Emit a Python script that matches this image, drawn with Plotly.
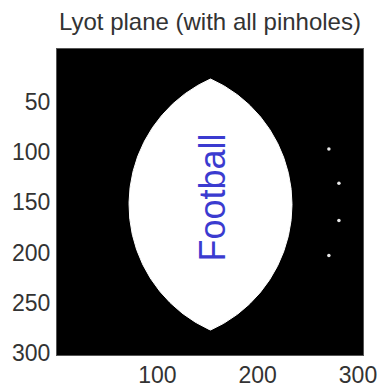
import numpy as np
import plotly.graph_objects as go

# ---- data ----
title_text = "Lyot plane (with all pinholes)"
label_text = "Football"
x_ticks = [100, 200, 300]
y_ticks = [50, 100, 150, 200, 250, 300]

# football (lens) aperture: centre, half-width, half-height (image pixels)
football_cx = 153.0
football_cy = 152.2
football_half_w = 81.2
football_half_h = 124.8

# pinholes (image pixels)
pinhole_x = [271, 281, 281, 271]
pinhole_y = [97, 131, 168, 203]

# ---- lens outline from its two circular arcs ----
R = (football_half_w + football_half_h**2 / football_half_w) / 2.0
d = R - football_half_w
phi = np.arcsin(football_half_h / R)
th = np.linspace(-phi, phi, 200)
right_x = football_cx - d + R * np.cos(th)
right_y = football_cy + R * np.sin(th)
left_x = football_cx + d - R * np.cos(th)
left_y = football_cy - R * np.sin(th)
lens_x = np.concatenate([right_x, left_x])
lens_y = np.concatenate([right_y, left_y])

fig = go.Figure()
fig.add_trace(go.Scatter(
    x=lens_x, y=lens_y, mode="lines", fill="toself",
    fillcolor="white", line=dict(color="white", width=1),
    hoverinfo="skip", showlegend=False))
fig.add_trace(go.Scatter(
    x=pinhole_x, y=pinhole_y, mode="markers",
    marker=dict(color="#e8e8e8", size=3.5, line=dict(width=0)),
    showlegend=False))

fig.add_annotation(
    x=155.0, y=145.7, xref="x", yref="y", text=label_text,
    textangle=-90, showarrow=False,
    font=dict(family="Liberation Sans, Arial", size=36, color="#3b3bd0"))

W, H = 377, 382  # page body has an 8px margin
tick_font = dict(family="Liberation Sans, Arial", size=23, color="#333333")
fig.update_layout(
    width=W, height=H,
    margin=dict(l=49, r=22, t=41, b=35, autoexpand=False),
    paper_bgcolor="white", plot_bgcolor="black",
    title=dict(text=title_text, x=0.5, xref="paper", xanchor="center",
               y=1 - 14 / H, yref="container", yanchor="middle",
               automargin=False,
               font=dict(family="Liberation Sans, Arial", size=24, color="#333333")),
    xaxis=dict(range=[0, 305], tickvals=x_ticks, ticktext=[str(v) for v in x_ticks],
               showgrid=False, zeroline=False, ticks="", tickfont=tick_font,
               showline=True, linecolor="#555555", linewidth=1, mirror=True,
               ticklabelstandoff=-1, automargin=False),
    yaxis=dict(range=[301.8, -2.4], tickvals=y_ticks, ticktext=[str(v) for v in y_ticks],
               showgrid=False, zeroline=False, ticks="", tickfont=tick_font,
               showline=True, linecolor="#555555", linewidth=1, mirror=True,
               ticklabelstandoff=1, automargin=False),
)

fig.write_html("out.html")
